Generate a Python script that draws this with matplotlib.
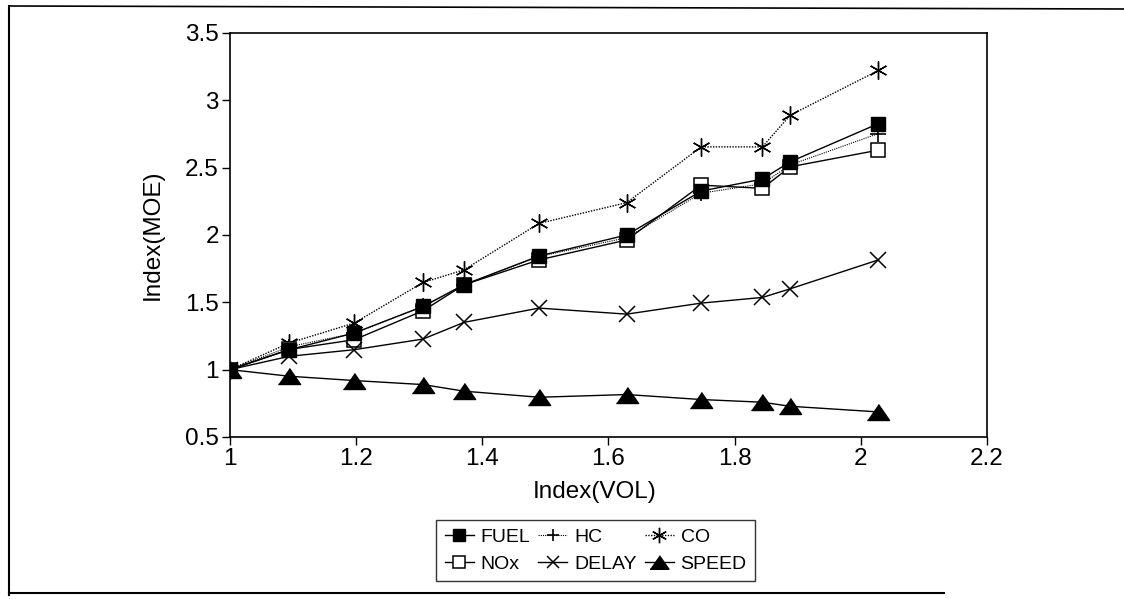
import matplotlib
matplotlib.use('Agg')
import matplotlib.pyplot as plt
from matplotlib.ticker import FormatStrFormatter
from matplotlib.lines import Line2D

plt.rcParams['font.family'] = ['Liberation Sans', 'DejaVu Sans']

# index of traffic volume (x) for each run
vol = [1.0, 1.094, 1.197, 1.306, 1.371, 1.49, 1.629, 1.747, 1.844, 1.888, 2.028]

# index of each measure of effectiveness
fuel = [1.0, 1.148, 1.272, 1.469, 1.630, 1.844, 2.0, 2.326, 2.415, 2.543, 2.827]
hc = [1.0, 1.17, 1.27, 1.47, 1.63, 1.84, 1.98, 2.31, 2.38, 2.52, 2.753]
co = [1.0, 1.198, 1.346, 1.647, 1.741, 2.086, 2.240, 2.654, 2.654, 2.889, 3.222]
nox = [1.0, 1.15, 1.222, 1.437, 1.63, 1.815, 1.963, 2.370, 2.346, 2.506, 2.630]
delay = [1.0, 1.099, 1.148, 1.227, 1.351, 1.457, 1.412, 1.494, 1.536, 1.600, 1.815]
speed = [1.0, 0.951, 0.919, 0.889, 0.840, 0.795, 0.815, 0.778, 0.758, 0.728, 0.686]

fig = plt.figure(figsize=(11.24, 5.99), dpi=100)
ax = fig.add_axes([0.2046, 0.2705, 0.6735, 0.6745])

lw = 1.0
flat_tri = [(-1, -0.72), (1, -0.72), (0, 0.72)]

ax.plot(vol, co, color='black', lw=lw, ls=(0, (1, 1)), marker=(6, 2, 0),
        ms=13, mew=1.0, label='CO')
ax.plot(vol, hc, color='black', lw=0.8, ls=(0, (1, 1)), marker='+',
        ms=11, mew=1.2, label='HC')
ax.plot(vol, nox, color='black', lw=lw, marker='s', ms=10, mfc='white',
        mew=1.1, label='NOx')
ax.plot(vol, fuel, color='black', lw=lw, marker='s', ms=10, label='FUEL')
ax.plot(vol, delay, color='black', lw=lw, marker='x', ms=11, mew=1.1,
        label='DELAY')
ax.plot(vol, speed, color='black', lw=lw, marker=flat_tri, ms=16,
        label='SPEED')

ax.set_xlim(1, 2.2)
ax.set_ylim(0.5, 3.5)
ax.set_xticks([1, 1.2, 1.4, 1.6, 1.8, 2, 2.2])
ax.set_yticks([0.5, 1, 1.5, 2, 2.5, 3, 3.5])
ax.xaxis.set_major_formatter(FormatStrFormatter('%g'))
ax.yaxis.set_major_formatter(FormatStrFormatter('%g'))
ax.tick_params(direction='out', length=6, width=1.0, labelsize=17.5,
               pad=2, colors='black')
for s in ax.spines.values():
    s.set_linewidth(1.2)

ax.set_xlabel('Index(VOL)', fontsize=17.5, va='center')
ax.set_ylabel('Index(MOE)', fontsize=17.5, va='center')
ax.xaxis.set_label_coords(0.482, -0.135)
ax.yaxis.set_label_coords(-0.102, 0.5)

# legend order as in the original: FUEL HC CO / NOx DELAY SPEED
handles, labels = ax.get_legend_handles_labels()
lookup = dict(zip(labels, handles))
order = ['FUEL', 'NOx', 'HC', 'DELAY', 'CO', 'SPEED']
leg = fig.legend([lookup[k] for k in order], order, ncol=3,
                 loc='upper center', bbox_to_anchor=(0.53, 0.132),
                 borderaxespad=0, frameon=True, fancybox=False,
                 edgecolor='black', handlelength=1.5, handletextpad=0.35,
                 columnspacing=0.4, borderpad=0.45, labelspacing=0.45,
                 prop={'family': ['Liberation Sans Narrow', 'Liberation Sans'],
                       'size': 14})
leg.get_frame().set_linewidth(1.0)
for h in leg.legend_handles:
    h.set_markersize(h.get_markersize() * 0.85)

# page border from the scanned report
fig.add_artist(Line2D([0.008, 0.008], [0.007, 0.99], color='black', lw=1.5))
fig.add_artist(Line2D([0.008, 1.0], [0.99, 0.985], color='black', lw=1.2))
fig.add_artist(Line2D([0.008, 0.84], [0.01, 0.01], color='black', lw=1.5))

fig.savefig('out.png', dpi=100, facecolor='white')
